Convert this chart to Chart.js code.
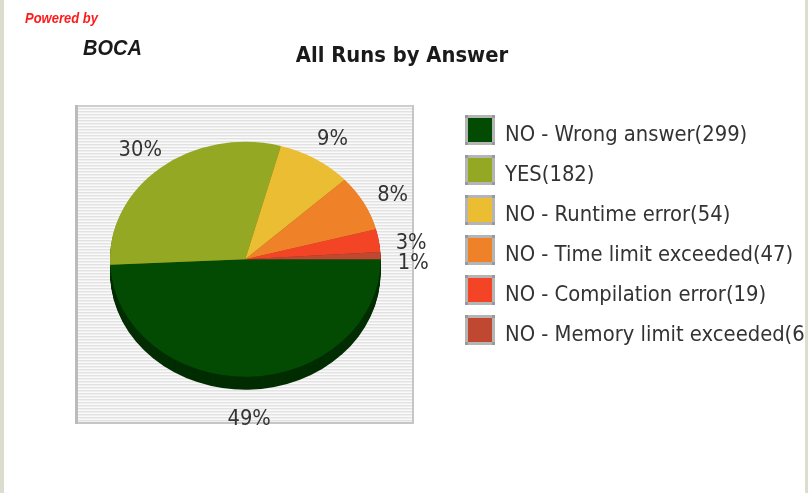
<!DOCTYPE html>
<html>
<head>
<meta charset="utf-8">
<title>All Runs by Answer</title>
<script src="https://cdn.jsdelivr.net/npm/chart.js@4/dist/chart.umd.min.js"></script>
<style>
  html, body { margin: 0; padding: 0; background: #fff; }
  canvas { display: block; }
</style>
</head>
<body>
<canvas id="runs-chart" width="808" height="493"></canvas>
<script>
// Runs per answer
const answers = ['NO - Wrong answer', 'YES', 'NO - Runtime error', 'NO - Time limit exceeded', 'NO - Compilation error', 'NO - Memory limit exceeded'];
const runs = [299, 182, 54, 47, 19, 6];
const sliceColors = ['#034b03', '#95a823', '#ebbd32', '#ef8229', '#f34525', '#c04830'];

const FONT = '"DejaVu Sans", sans-serif';
const TEXT_STRETCH = 1.09;   // text is a little taller than wide
const PIE_SQUASH = 0.868;    // pie drawn as a flat ellipse
const PIE_DEPTH = 13;
const plotBox = { left: 75, top: 105, right: 414, bottom: 424 };

function darken(hex, f) {
  const n = parseInt(hex.slice(1), 16);
  const c = [(n >> 16) & 255, (n >> 8) & 255, n & 255].map(v => Math.round(v * f));
  return `rgb(${c.join(',')})`;
}

function drawText(ctx, text, x, y, font, color, align = 'left') {
  ctx.save();
  ctx.translate(x, y);
  ctx.scale(1, TEXT_STRETCH);
  ctx.font = font;
  ctx.fillStyle = color;
  ctx.textAlign = align;
  ctx.textBaseline = 'alphabetic';
  ctx.fillText(text, 0, 0);
  ctx.restore();
}

function ellipseTransform(ctx, cx, cy) {
  ctx.translate(cx, cy);
  ctx.scale(1, PIE_SQUASH);
  ctx.translate(-cx, -cy);
}

function drawSideStrips(ctx, height) {
  ctx.fillStyle = '#dcdccf';
  ctx.fillRect(0, 0, 4, height);
  ctx.fillRect(805, 0, 3, height);
}

// Page, plot frame and headings
const backdrop = {
  id: 'backdrop',
  beforeDraw(chart) {
    const { ctx, width, height } = chart;
    ctx.save();
    ctx.fillStyle = '#fff';
    ctx.fillRect(0, 0, width, height);

    const b = plotBox;
    const stripes = ['#e2e2e2', '#efefef', '#fafafa'];
    for (let y = b.top; y < b.bottom; y++) {
      ctx.fillStyle = stripes[(y - b.top) % 3];
      ctx.fillRect(b.left, y, b.right - b.left, 1);
    }
    ctx.fillStyle = '#cfcfcf';
    ctx.fillRect(b.left, b.top, b.right - b.left, 2);
    ctx.fillStyle = '#c6c6c6';
    ctx.fillRect(b.right - 2, b.top, 2, b.bottom - b.top);
    ctx.fillRect(b.left, b.bottom - 2, b.right - b.left, 2);
    ctx.fillStyle = '#bbbbbb';
    ctx.fillRect(b.left, b.top, 3, b.bottom - b.top);

    drawText(ctx, 'Powered by', 25, 23, 'italic bold 13px "Liberation Sans", Arial, sans-serif', '#ff1a1a');
    drawText(ctx, 'BOCA', 83, 55, 'italic bold 20px "Liberation Sans", Arial, sans-serif', '#1a1a1a');
    drawText(ctx, 'All Runs by Answer', 402, 62, `bold 19.6px ${FONT}`, '#1a1a1a', 'center');
    ctx.restore();
  }
};

// Flattened 3D pie: dark side first, then the top face squashed into an ellipse
const pie3d = {
  id: 'pie3d',
  beforeDatasetsDraw(chart) {
    const { ctx } = chart;
    const arcs = chart.getDatasetMeta(0).data;
    const { x: cx, y: cy } = arcs[0];
    for (let d = PIE_DEPTH; d >= 1; d--) {
      ctx.save();
      ctx.translate(0, d);
      ellipseTransform(ctx, cx, cy);
      arcs.forEach((a) => {
        const bg = a.options.backgroundColor;
        a.options.backgroundColor = darken(bg, 0.6);
        a.draw(ctx);
        a.options.backgroundColor = bg;
      });
      ctx.restore();
    }
    ctx.save();
    ellipseTransform(ctx, cx, cy);
  },
  afterDatasetsDraw(chart) {
    const { ctx } = chart;
    ctx.restore();
    const arcs = chart.getDatasetMeta(0).data;
    const values = chart.data.datasets[0].data;
    const total = values.reduce((s, v) => s + v, 0);
    arcs.forEach((a, i) => {
      const { x, y, startAngle, endAngle, outerRadius } = a.getProps(['x', 'y', 'startAngle', 'endAngle', 'outerRadius'], true);
      const mid = (startAngle + endAngle) / 2;
      const lx = x + outerRadius * 1.242 * Math.cos(mid);
      const ly = y + PIE_DEPTH / 2 + outerRadius * 1.116 * Math.sin(mid);
      const pct = `${Math.round(values[i] / total * 100)}%`;
      drawText(ctx, pct, lx, ly + 7.8, `19.5px ${FONT}`, '#333', 'center');
    });
  }
};

// Legend on the right, one row per answer with its run count
const sideLegend = {
  id: 'sideLegend',
  afterDraw(chart) {
    const { ctx, height } = chart;
    const labels = chart.data.labels;
    const values = chart.data.datasets[0].data;
    const colors = chart.data.datasets[0].backgroundColor;
    ctx.save();
    labels.forEach((lab, i) => {
      const top = 115 + i * 40;
      ctx.fillStyle = '#b5b5b5';
      ctx.fillRect(465, top, 30, 30);
      ctx.fillStyle = '#999';
      [[465, top], [492, top], [465, top + 27], [492, top + 27]].forEach(([px, py]) => ctx.fillRect(px, py, 3, 3));
      ctx.fillStyle = colors[i];
      ctx.fillRect(468, top + 3, 24, 24);
      drawText(ctx, `${lab}(${values[i]})`, 505, top + 26, `19.6px ${FONT}`, '#333');
    });
    // the page edge covers the end of long legend rows
    drawSideStrips(ctx, height);
    ctx.restore();
  }
};

new Chart(document.getElementById('runs-chart'), {
  type: 'pie',
  data: {
    labels: answers,
    datasets: [{
      data: runs,
      backgroundColor: sliceColors,
      borderWidth: 0,
      hoverOffset: 0,
      clip: false
    }]
  },
  options: {
    responsive: false,
    animation: false,
    events: [],
    rotation: 90,
    layout: { padding: { left: 110, right: 427.4, top: 124, bottom: 98.4 } },
    plugins: {
      legend: { display: false },
      tooltip: { enabled: false },
      title: { display: false }
    }
  },
  plugins: [backdrop, pie3d, sideLegend]
});
</script>
</body>
</html>
